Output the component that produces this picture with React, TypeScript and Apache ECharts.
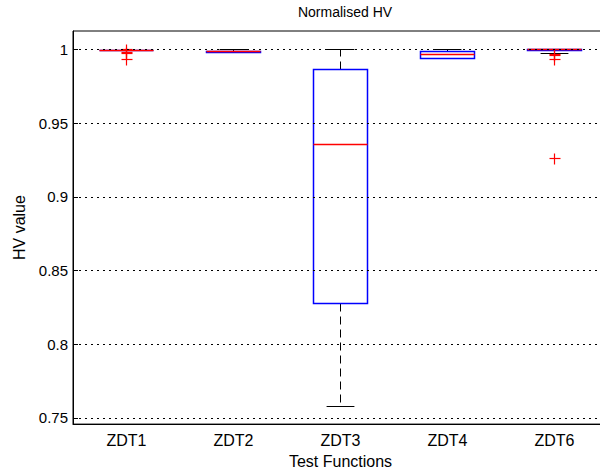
import React, { useEffect, useRef } from "react";
import * as echarts from "echarts";

const categories = ["ZDT1", "ZDT2", "ZDT3", "ZDT4", "ZDT6"];
const lowerWhisker = [0.9992, 0.998, 0.7574, 0.9942, 0.9975];
const q1 = [0.9993, 0.998, 0.8275, 0.9942, 0.9993];
const median = [0.9993, 0.9991, 0.9358, 0.9965, 1.0];
const q3 = [0.9993, 0.9991, 0.9864, 0.9985, 1.0];
const upperWhisker = [0.9994, 1.0, 1.0, 1.0, 1.0];
const outlierCategory = [0, 0, 0, 0, 4, 4, 4, 4];
const outlierValue = [1.0, 0.9982, 0.9971, 0.9933, 0.997, 0.996, 0.9933, 0.9258];
const yTicks = [0.75, 0.8, 0.85, 0.9, 0.95, 1];
const yMin = 0.7457;
const yMax = 1.0127;

const FONT = "'Liberation Sans', Arial, Helvetica, sans-serif";
const crisp = (v: number) => Math.round(v - 0.5) + 0.5;

export default function App() {
  const ref = useRef<HTMLDivElement>(null);
  useEffect(() => {
    if (!ref.current) return;
    const chart = echarts.init(ref.current, null, { renderer: "svg" });
    const boxData = categories.map((_, i) => [i, lowerWhisker[i], q1[i], median[i], q3[i], upperWhisker[i]]);
    const outliers = outlierCategory.map((c, i) => [c, outlierValue[i]]);
    const option: any = {
      animation: false,
      backgroundColor: "#fff",
      title: {
        text: "Normalised HV",
        left: 340,
        top: 0,
        textAlign: "center",
        textStyle: { fontFamily: FONT, fontSize: 14, fontWeight: "normal", color: "#000" },
      },
      grid: {
        left: 73,
        top: 31,
        right: 0,
        bottom: 43,
        show: true,
        borderColor: "#000",
        borderWidth: 1,
        backgroundColor: "transparent",
      },
      xAxis: {
        type: "category",
        data: categories,
        boundaryGap: true,
        name: "Test Functions",
        nameLocation: "middle",
        nameGap: 23,
        nameTextStyle: { fontFamily: FONT, fontSize: 16, color: "#000" },
        axisLine: { lineStyle: { color: "#000", width: 1 } },
        axisTick: { show: false },
        axisLabel: { fontFamily: FONT, fontSize: 16, color: "#000", margin: 8 },
        splitLine: { show: false },
      },
      yAxis: {
        type: "value",
        min: yMin,
        max: yMax,
        name: "HV value",
        nameLocation: "middle",
        nameGap: 45,
        nameRotate: 90,
        nameTextStyle: { fontFamily: FONT, fontSize: 16, color: "#000" },
        axisLine: { show: true, lineStyle: { color: "#000", width: 1 } },
        axisTick: { show: true, inside: true, length: 5, customValues: yTicks, lineStyle: { color: "#000" } },
        axisLabel: {
          customValues: yTicks,
          fontFamily: FONT,
          fontSize: 15,
          color: "#000",
          margin: 5,
          formatter: (v: number) => String(+Number(v).toFixed(2)),
        },
        splitLine: { show: false },
      },
      series: [
        {
          type: "line",
          data: [],
          z: 1,
          markLine: {
            silent: true,
            symbol: ["none", "none"],
            label: { show: false },
            lineStyle: { color: "#000", width: 1, type: [2, 4] },
            data: yTicks.map((t) => ({ yAxis: t })),
          },
        },
        {
          type: "custom",
          z: 2,
          data: boxData,
          encode: { x: 0, y: [1, 2, 3, 4, 5] },
          renderItem: (params: any, api: any) => {
            const idx = api.value(0);
            const band = api.size([1, 0])[0];
            const cx = crisp(api.coord([idx, 0.9])[0]);
            const y = (k: number) => crisp(api.coord([idx, api.value(k)])[1]);
            const yLo = y(1), yQ1 = y(2), yMed = y(3), yQ3 = y(4), yHi = y(5);
            const hw = band * 0.25;
            const cw = band * 0.13;
            const dashed = { stroke: "#000", lineWidth: 1, lineDash: [8, 5], fill: "none" };
            const solid = { stroke: "#000", lineWidth: 1, fill: "none" };
            return {
              type: "group",
              children: [
                { type: "line", shape: { x1: cx, y1: yQ3, x2: cx, y2: yHi }, style: dashed },
                { type: "line", shape: { x1: cx, y1: yQ1, x2: cx, y2: yLo }, style: dashed },
                { type: "line", shape: { x1: cx - cw, y1: yHi, x2: cx + cw, y2: yHi }, style: solid },
                { type: "line", shape: { x1: cx - cw, y1: yLo, x2: cx + cw, y2: yLo }, style: solid },
                {
                  type: "rect",
                  shape: { x: crisp(cx - hw), y: yQ3, width: Math.round(2 * hw), height: Math.max(0, yQ1 - yQ3) },
                  style: { stroke: "#0000ff", lineWidth: 1.5, fill: "none" },
                },
                {
                  type: "line",
                  shape: { x1: crisp(cx - hw), y1: yMed, x2: crisp(cx - hw) + Math.round(2 * hw), y2: yMed },
                  style: { stroke: "#ff0000", lineWidth: 1.5 },
                },
              ],
            };
          },
        },
        {
          type: "custom",
          z: 3,
          data: outliers,
          encode: { x: 0, y: 1 },
          renderItem: (params: any, api: any) => {
            const p = api.coord([api.value(0), api.value(1)]);
            const cx = crisp(p[0]);
            const cy = crisp(p[1]);
            const h = 5;
            const st = { stroke: "#ff0000", lineWidth: 1.2 };
            return {
              type: "group",
              children: [
                { type: "line", shape: { x1: cx - h, y1: cy, x2: cx + h + 1, y2: cy }, style: st },
                { type: "line", shape: { x1: cx, y1: cy - h, x2: cx, y2: cy + h + 1 }, style: st },
              ],
            };
          },
        },
      ],
    };
    chart.setOption(option);
    return () => chart.dispose();
  }, []);
  return (
    <div style={{ position: "fixed", left: 0, top: 0, width: 600, height: 474, overflow: "hidden", background: "#fff" }}>
      <div ref={ref} style={{ width: 608, height: 474 }} />
    </div>
  );
}
